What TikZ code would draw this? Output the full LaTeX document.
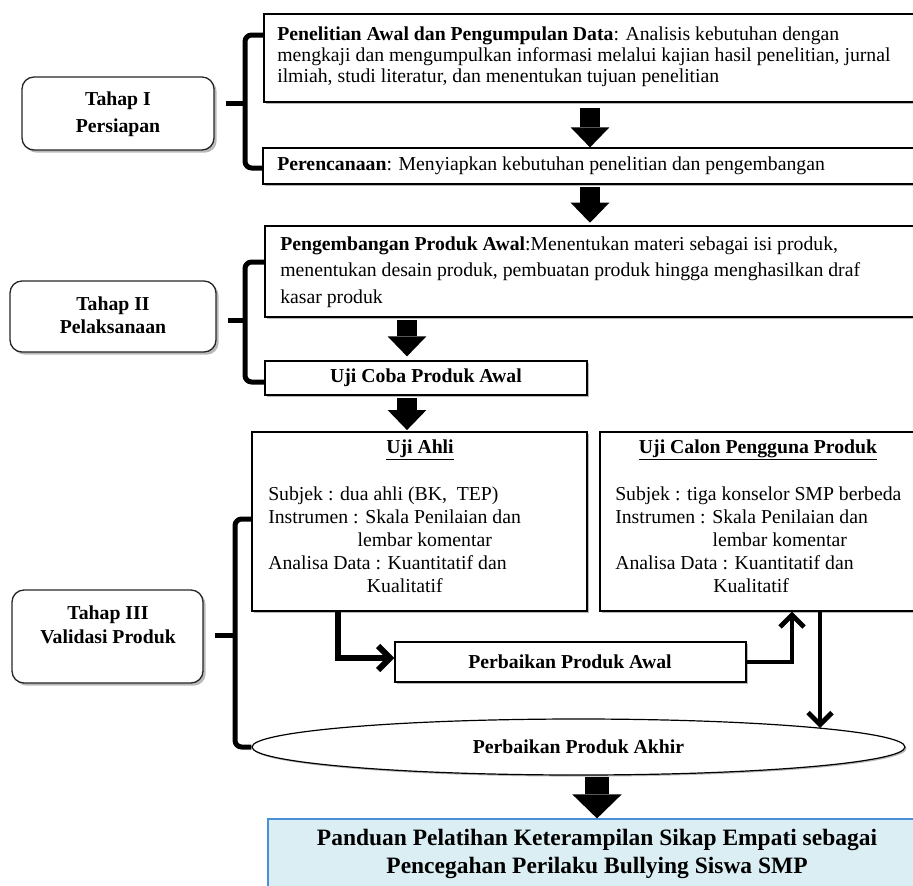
\documentclass[tikz,border=0pt]{standalone}
\usepackage{fontspec}
\setmainfont{Liberation Serif}
\usetikzlibrary{arrows.meta,shapes.geometric,shadows,fit,calc}
\definecolor{finfill}{HTML}{DBEEF4}
\definecolor{finline}{HTML}{4A90D9}
\newcommand\fnA{\fontsize{14.8pt}{17.2pt}\selectfont}
\begin{document}
\begin{tikzpicture}[x=0.75pt,y=-0.75pt,
  every node/.style={font=\fnA},
  bx/.style={draw=black, line width=0.9pt, fill=white, inner sep=0pt,
    drop shadow={shadow xshift=1.2pt, shadow yshift=-1.2pt, fill=black!50, opacity=0.55}},
  stg/.style={draw=black!85, line width=1pt, fill=white, inner sep=0pt, rounded corners=9pt,
    drop shadow={shadow xshift=2pt, shadow yshift=-2pt, fill=black!50, opacity=0.55}},
  tx/.style={inner sep=0pt},
  blk/.style={line width=14.5pt, -{Triangle[width=29pt,length=15pt,line width=0pt]}},
  bigblk/.style={line width=18pt, -{Triangle[width=37pt,length=18pt,line width=0pt]}},
  brc/.style={line width=3.75pt, rounded corners=5pt},
  lnk/.style={line width=4.5pt, -{Straight Barb[length=9pt,width=18pt]}},
  lnkb/.style={line width=3.6pt, -{Straight Barb[length=9pt,width=18pt]}},
]
\useasboundingbox (0,0) rectangle (913,885);
\clip (0,0) rectangle (913,885);

% ---------- stage boxes ----------
\node[stg, fit={(22,77) (214,150)}] (s1) {};
\node[tx, align=center, font=\fontsize{14.8pt}{20pt}\selectfont\bfseries] (t1s) at (118,114)
      {Tahap I\\Persiapan};
\node[stg, fit={(10,281) (216,352)}] (s2) {};
\node[tx, align=center, font=\fontsize{14.8pt}{17.5pt}\selectfont\bfseries] (t2s) at (113,315)
      {Tahap II\\Pelaksanaan};
\node[stg, fit={(12,590) (203,683)}] (s3) {};
\node[tx, align=center, font=\fontsize{14.8pt}{18pt}\selectfont\bfseries] (t3s) at (108,625)
      {Tahap III\\Validasi Produk};

% ---------- main boxes ----------
\node[bx, fit={(264,14) (920,102)}] (b1) {};
\node[tx, anchor=west, align=left, font=\fontsize{14.8pt}{15.8pt}\selectfont] (t1) at (277,57)
  {\textbf{Penelitian Awal dan Pengumpulan Data}: Analisis kebutuhan dengan\\
   mengkaji dan mengumpulkan informasi melalui kajian hasil penelitian, jurnal\\
   ilmiah, studi literatur, dan menentukan tujuan penelitian};

\node[bx, fit={(263,148) (920,184)}] (b2) {};
\node[tx, anchor=west] (t2) at (277,166)
  {\textbf{Perencanaan}: Menyiapkan kebutuhan penelitian dan pengembangan};

\node[bx, fit={(265,226) (920,317)}] (b3) {};
\node[tx, anchor=west, align=left, font=\fontsize{14.8pt}{20pt}\selectfont] (t3) at (280,272)
  {\textbf{Pengembangan Produk Awal}:Menentukan materi sebagai isi produk,\\
   menentukan desain produk, pembuatan produk hingga menghasilkan draf\\
   kasar produk};

\node[bx, fit={(265,361) (587,395)}] (b4) {};
\node[tx, font=\fnA\bfseries] (t4) at (426,378) {Uji Coba Produk Awal};

\node[bx, fit={(252,432) (587,611)}] (b5) {};
\node[tx, font=\fnA\bfseries] (t5h) at (420,450) {\underline{Uji Ahli}};
\node[tx, anchor=west, align=left] (t5b) at (268,540)
  {Subjek : dua ahli (BK,\ \ TEP)\\
   Instrumen : Skala Penilaian dan\\
   \hspace*{67pt}lembar komentar\\
   Analisa Data : Kuantitatif dan\\
   \hspace*{74pt}Kualitatif};

\node[bx, fit={(600,432) (920,611)}] (b6) {};
\node[tx, font=\fnA\bfseries] (t6h) at (758,450) {\underline{Uji Calon Pengguna Produk}};
\node[tx, anchor=west, align=left] (t6b) at (615,540)
  {Subjek : tiga konselor SMP berbeda\\
   Instrumen : Skala Penilaian dan\\
   \hspace*{73pt}lembar komentar\\
   Analisa Data : Kuantitatif dan\\
   \hspace*{73.5pt}Kualitatif};

\node[bx, fit={(395,642) (746,682)}] (b7) {};
\node[tx, font=\fnA\bfseries] (t7) at (570,662) {Perbaikan Produk Awal};

\node[draw=black, line width=0.9pt, fill=white, ellipse, inner sep=0pt,
      minimum width=489.75pt, minimum height=42pt, font=\fnA\bfseries,
      drop shadow={shadow xshift=1.2pt, shadow yshift=-1.2pt, fill=black!50, opacity=0.55}]
      (e1) at (578.5,747) {Perbaikan Produk Akhir};

\node[draw=finline, fill=finfill, line width=0.9pt, inner sep=0pt, fit={(268,819) (920,890)}] (b8) {};
\node[tx, align=center, font=\fontsize{17.6pt}{21pt}\selectfont\bfseries] (t8) at (597,854)
  {Panduan Pelatihan Keterampilan Sikap Empati sebagai\\Pencegahan Perilaku Bullying Siswa SMP};

% ---------- brackets ----------
\draw[brc] (b1.west |- 0,35) -- (245,35) -- (245,168) -- (b2.west |- 0,168);
\coordinate (m1) at (226,103);
\draw[brc] (m1) -- (245,103);
\draw[brc] (b3.west |- 0,262) -- (245,262) -- (245,382) -- (b4.west |- 0,382);
\coordinate (m2) at (228,320);
\draw[brc] (m2) -- (245,320);
\draw[brc] (b5.west |- 0,519) -- (235,519) -- (235,747) -- (e1.west);
\coordinate (m3) at (215,635);
\draw[brc] (m3) -- (235,635);

% ---------- block arrows ----------
\coordinate (xa) at (590,0);
\coordinate (xb) at (407,0);
\coordinate (xc) at (597,0);
\draw[blk, shorten <=4pt] (b1.south -| xa) -- (b2.north -| xa);
\draw[blk, shorten <=2pt, shorten >=2pt] (b2.south -| xa) -- (b3.north -| xa);
\draw[blk, shorten <=2pt, shorten >=3pt] (b3.south -| xb) -- (b4.north -| xb);
\draw[blk, shorten <=2pt, shorten >=1pt] (b4.south -| xb) -- (b5.north -| xb);
\draw[bigblk, shorten <=1pt] (e1.south -| xc) -- (b8.north -| xc);

% ---------- validation connectors ----------
\coordinate (xd) at (338,0);
\coordinate (xe) at (792,0);
\coordinate (e1top) at (820,728);
\draw[lnk] (b5.south -| xd) |- ([yshift=3pt]b7.west);
\draw[lnkb] (b7.east) -| (b6.south -| xe);
\draw[lnkb] (b6.south -| e1top) -- (e1top);
\end{tikzpicture}
\end{document}
